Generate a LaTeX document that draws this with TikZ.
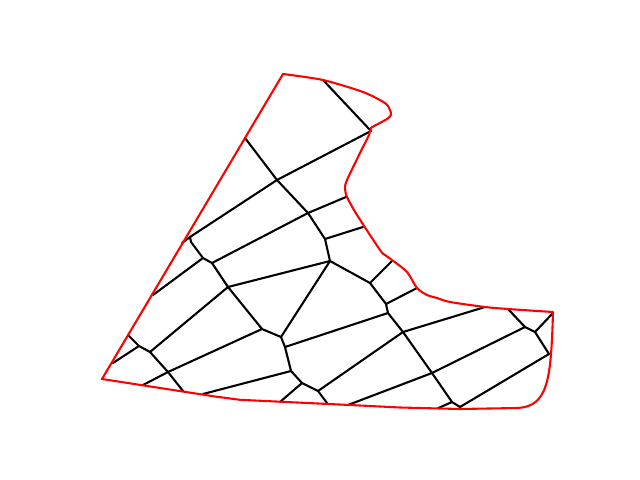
\documentclass[tikz,border=0pt]{standalone}
\usetikzlibrary{calc}

\begin{document}
\begin{tikzpicture}[
    x=0.72pt, y=-0.72pt, % pixel grid, y runs down
    edge/.style={line width=1.5pt, black, line join=round, line cap=round},
    border/.style={line width=1.5pt, red, line join=round}
]
\useasboundingbox (0,0) rectangle (640,480);

% =========================================================
% MESH EDGES
% =========================================================

% ------------------- rings (top to bottom) -------------------
\draw[edge] (323,80) -- (371,131);
\draw[edge] (245,138) -- (277,180) -- (308,213) -- (325,239) -- (330,261)
    -- (370,283) -- (386,304) -- (388,313) -- (403,332) -- (432,373)
    -- (452,402) -- (460,407) -- (460,408.5);
\draw[edge] (190,237) -- (191,242) -- (203,258) -- (212,263) -- (228,287)
    -- (262,329) -- (281,337) -- (285,347) -- (291,371) -- (302,383)
    -- (318,391) -- (327,403);
\draw[edge] (128,335) -- (139,346) -- (150,352) -- (168,372) -- (183,391);

% ------------------- spokes (left to right) -------------------
\draw[edge] (182,243) -- (190,237) -- (277,180) -- (371,131);
\draw[edge] (153,295) -- (203,258);
\draw[edge] (212,263) -- (308,213) -- (346,197);
\draw[edge] (325,239) -- (363,227);
\draw[edge] (150,352) -- (228,287) -- (330,261);
\draw[edge] (370,283) -- (392,261);
\draw[edge] (113,363) -- (139,346);
\draw[edge] (168,372) -- (262,329);
\draw[edge] (281,337) -- (330,261);
\draw[edge] (285,347) -- (388,313);
\draw[edge] (386,304) -- (417,288);
\draw[edge] (143,385) -- (168,372);
\draw[edge] (203,394) -- (291,371);
\draw[edge] (280,402) -- (302,383);
\draw[edge] (318,391) -- (403,332) -- (485,307);
\draw[edge] (348,405) -- (432,373) -- (525,327) -- (535,332) -- (553,313);
\draw[edge] (508,309) -- (525,327);
\draw[edge] (535,332) -- (549,354) -- (460,407);
\draw[edge] (438,408.2) -- (452,402);

% =========================================================
% BOUNDARY
% =========================================================
\draw[border] (102,379) -- plot[smooth, tension=0.45] coordinates {
    (283,74) (323,80) (363,92) (385,103) (390,110) (391,115) (387,119)
    (378,124) (371,128) (369,135) (360,153) (347,180) (345,188) (347,197)
    (357,215) (380,250) (385,255) (392,260) (407,272) (417,288) (427,295)
    (437,298) (450,302) (485,307) (508,309) (553,312)}
    .. controls (551,380) and (548,406) .. (518,408)
    -- (460,409) -- (400,407.5) -- (350,405) -- (280,401.7) -- (240,399.8)
    -- (215,396.5) -- cycle;

\end{tikzpicture}
\end{document}
